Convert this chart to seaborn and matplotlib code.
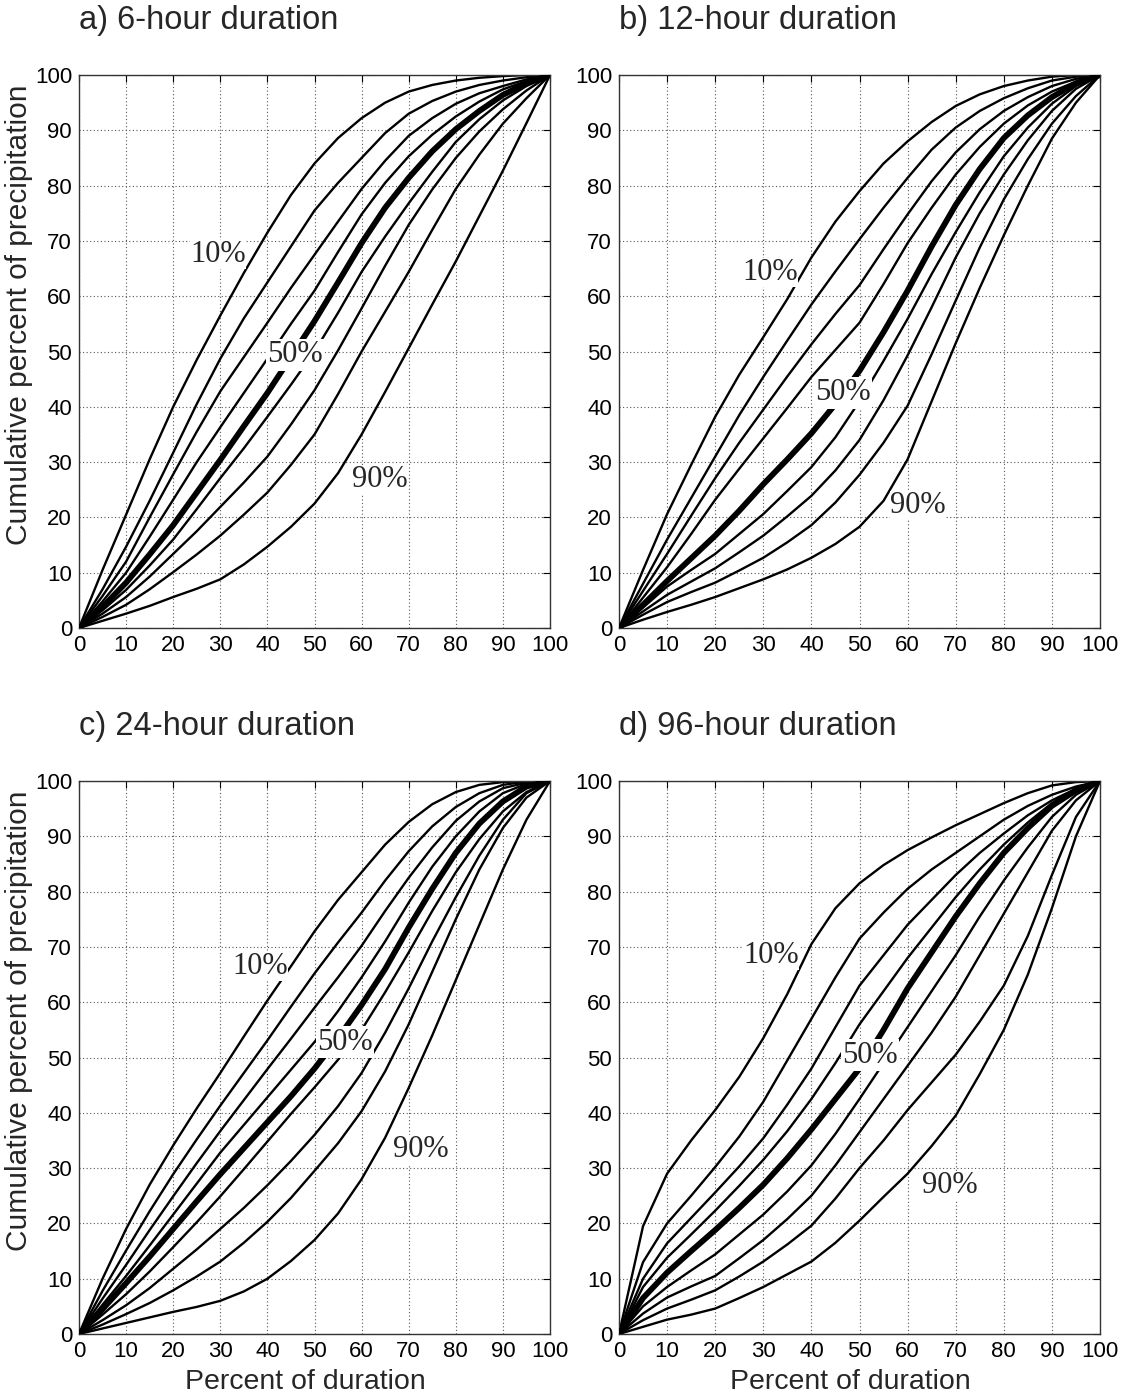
import matplotlib
matplotlib.use("Agg")
import matplotlib.pyplot as plt
import seaborn as sns
import pandas as pd

# Percent of storm duration at which the cumulative curves are tabulated
duration_pct = [0, 5, 10, 15, 20, 25, 30, 35, 40, 45, 50,
                55, 60, 65, 70, 75, 80, 85, 90, 95, 100]

# Probability levels of the curves (10% ... 90%)
prob_levels = ["10%", "20%", "30%", "40%", "50%", "60%", "70%", "80%", "90%"]

# Cumulative percent of precipitation, one row per probability level
six_hour = [
    [0, 10.5, 20.5, 30.5, 40, 48.5, 56.5, 64.2, 71.5, 78.3, 84, 88.6, 92.2, 95, 97, 98.2, 99, 99.5, 99.8, 100, 100],
    [0, 7, 14.7, 23, 31.7, 40.5, 48.7, 56, 62.5, 69, 75.5, 80.5, 85, 89.5, 93, 95.3, 97, 98.2, 99, 99.6, 100],
    [0, 5.8, 12, 20, 27.8, 35.5, 42.8, 49, 55.2, 61.5, 67.5, 73.5, 79.4, 84.5, 89, 92.2, 94.8, 96.7, 98, 99.2, 100],
    [0, 4.8, 10, 16.5, 23.2, 30, 36.3, 42.5, 48.7, 55, 61, 68, 74.8, 80.5, 85.3, 89.2, 92.5, 95.2, 97.4, 98.9, 100],
    [0, 3.8, 8.2, 13.3, 18.6, 24.5, 30.4, 36.5, 42.5, 49, 55.5, 62.5, 69.6, 76, 81.4, 86.2, 90.2, 93.5, 96.4, 98.5, 100],
    [0, 3.2, 6.9, 11.3, 16, 21.5, 27.1, 32.5, 38.2, 44, 50, 57, 64.4, 70.8, 76.8, 82.5, 87.9, 92, 95.4, 98, 100],
    [0, 2.6, 5.6, 9.3, 13.4, 17.5, 21.9, 26.3, 31, 36.8, 43, 50.2, 57.8, 65.5, 72.9, 79.3, 85, 89.8, 93.8, 97.2, 100],
    [0, 2, 4.2, 7, 10.1, 13.3, 16.7, 20.5, 24.5, 29.5, 35, 42.3, 50, 57.2, 64.4, 72, 79.4, 85.6, 91.2, 95.8, 100],
    [0, 1.3, 2.6, 4, 5.6, 7.1, 8.8, 11.5, 14.7, 18.3, 22.5, 28, 35, 42.7, 50.6, 58.5, 66.3, 74.5, 82.7, 91.3, 100],
]

twelve_hour = [
    [0, 10.5, 20.6, 29.5, 38.2, 45.8, 52.6, 59.5, 67, 73.5, 79, 84, 88, 91.5, 94.4, 96.5, 98, 99, 99.7, 100, 100],
    [0, 8, 16, 23.5, 31, 38.5, 45.4, 52, 58.5, 64.5, 70.3, 76, 81.4, 86.5, 90.5, 93.5, 95.8, 97.6, 99, 99.7, 100],
    [0, 6.7, 13.4, 20.3, 27.1, 33.5, 39.5, 45.5, 51.3, 56.8, 62, 68.5, 74.8, 80.8, 86, 90.2, 93.5, 96, 98, 99.3, 100],
    [0, 5.5, 11, 17, 23.2, 28.8, 34.3, 39.8, 45.4, 50.3, 55.2, 62.2, 69.6, 76, 82, 87, 91.2, 94.5, 97, 98.8, 100],
    [0, 4.2, 8.5, 12.6, 16.7, 21.2, 26, 30.5, 35.2, 40.5, 46.5, 53.5, 61, 69, 76.5, 83, 88.6, 92.7, 96, 98.5, 100],
    [0, 3.7, 7.5, 10.5, 13.4, 17, 20.6, 24.8, 29.1, 34.5, 41, 48.3, 55.9, 64, 71.6, 78.8, 85.3, 90.5, 94.8, 98, 100],
    [0, 3, 6, 8.4, 10.8, 13.7, 16.7, 20.2, 23.9, 28.5, 34, 41.2, 49.3, 58, 67, 75, 82, 88.2, 93.5, 97.5, 100],
    [0, 2.4, 4.7, 6.5, 8.2, 10.4, 12.7, 15.5, 18.6, 22.7, 27.7, 33.5, 40.2, 49.5, 59.2, 68.8, 77.5, 84.8, 91.2, 96.2, 100],
    [0, 1.5, 2.9, 4.2, 5.6, 7.2, 8.8, 10.6, 12.7, 15.2, 18.3, 23, 30.5, 41, 51.5, 61.5, 71, 80, 88.5, 95, 100],
]

twenty_four_hour = [
    [0, 10, 19, 27, 34.1, 40.8, 47.2, 53.8, 60.3, 66.5, 72.8, 78.5, 83.5, 88.5, 92.6, 95.8, 98, 99.3, 99.8, 100, 100],
    [0, 7.8, 15.1, 22.2, 28.9, 35.2, 41.3, 47.2, 53.1, 59.2, 65.2, 70.8, 76.2, 82, 87.3, 91.8, 95.3, 97.8, 99.3, 99.9, 100],
    [0, 6.4, 12.5, 18.8, 24.9, 30.9, 36.7, 42.3, 47.9, 53.4, 59, 64.5, 70.2, 76.5, 82.5, 88, 92.8, 96.3, 98.7, 99.7, 100],
    [0, 5.3, 10.5, 16, 21.6, 27.2, 32.8, 37.8, 42.8, 47.8, 52.8, 58.4, 64.5, 71, 78, 84.5, 90, 94.5, 97.8, 99.5, 100],
    [0, 4.5, 9.2, 14, 19, 24, 28.9, 33.6, 38.3, 43, 48, 53.5, 59.5, 66, 73.5, 80.5, 87, 92.3, 96.3, 99, 100],
    [0, 3.5, 7.2, 11.3, 15.7, 20.2, 24.9, 29.8, 34.8, 39.8, 44.6, 49.6, 55, 61.8, 69, 76.5, 83.5, 89.5, 94.5, 98, 100],
    [0, 2.5, 5.2, 8.3, 11.8, 15.3, 19, 22.8, 26.9, 31.3, 36, 41.2, 47.2, 54.5, 62.5, 71, 79, 86.5, 93, 97.8, 100],
    [0, 1.7, 3.6, 5.6, 7.9, 10.4, 13.1, 16.5, 20.3, 24.6, 29.5, 34.5, 40.3, 47.5, 56, 65.5, 75, 84, 91.5, 97, 100],
    [0, 1, 2, 3, 4, 4.9, 6, 7.7, 10, 13.2, 17, 21.8, 28, 35.5, 44.5, 54, 64, 74, 84, 93, 100],
]

ninety_six_hour = [
    [0, 19.5, 29, 35, 40.5, 46.5, 53.5, 61.5, 70.5, 77, 81.5, 84.8, 87.5, 89.8, 92, 94, 96, 97.8, 99.2, 99.8, 100],
    [0, 13, 20, 25, 30.2, 35.7, 42, 49.5, 57, 64.5, 71.5, 76.2, 80.5, 84, 87, 90, 93, 95.5, 97.5, 99, 100],
    [0, 10, 16.4, 21, 25.6, 30.3, 35.4, 41.5, 48, 55.5, 63, 68.5, 74, 78.5, 83, 87, 90.5, 93.8, 96.5, 98.6, 100],
    [0, 8.5, 13.8, 18, 22.3, 26.8, 31.5, 36.7, 42.5, 49, 56, 62, 68, 73.5, 79, 84, 88.5, 92.5, 96, 98.5, 100],
    [0, 6.5, 11.1, 15, 18.8, 22.8, 27, 31.8, 37, 42.5, 48, 55, 62.5, 69, 75.5, 81.5, 87, 91.5, 95.5, 98.3, 100],
    [0, 5, 8.5, 11.5, 14.4, 18, 21.6, 25.8, 30.5, 36.2, 42.5, 49, 55.5, 62, 68.5, 75.5, 82, 88, 93.5, 97.5, 100],
    [0, 3.7, 6.6, 8.6, 10.5, 13.7, 17, 20.8, 25, 30.5, 36.5, 42.5, 48.5, 54.5, 61, 68.5, 76, 83.5, 91, 96.5, 100],
    [0, 2.5, 4.6, 6.2, 7.9, 10.4, 13.1, 16.2, 19.6, 24.5, 30, 35, 40.5, 45.5, 50.5, 56.5, 63, 72, 83, 93.5, 100],
    [0, 1.3, 2.6, 3.5, 4.6, 6.5, 8.5, 10.8, 13.1, 16.5, 20.5, 24.8, 29, 34, 39.5, 47, 55, 65, 77, 90, 100],
]

panel_titles = ["a) 6-hour duration", "b) 12-hour duration",
                "c) 24-hour duration", "d) 96-hour duration"]
panel_curves = [six_hour, twelve_hour, twenty_four_hour, ninety_six_hour]

# Where the 10%, 50% and 90% tags sit in each panel (data coordinates)
tag_xy = [
    {"10%": (29.5, 67.5), "50%": (45.9, 49.4), "90%": (63.9, 26.8)},
    {"10%": (31.4, 64.2), "50%": (46.6, 42.5), "90%": (62.2, 22.2)},
    {"10%": (38.4, 66.4), "50%": (56.5, 52.8), "90%": (72.6, 33.3)},
    {"10%": (31.6, 68.5), "50%": (52.2, 50.4), "90%": (68.8, 26.9)},
]

sns.set_style("white")
plt.rcParams["font.family"] = ["Liberation Sans", "DejaVu Sans"]

W, H = 1126, 1400
fig = plt.figure(figsize=(W / 100, H / 100), dpi=100)

# axes boxes in pixels: left, right, top, bottom
boxes = [(79, 550, 75, 628), (619, 1100, 75, 628),
         (79, 550, 781, 1334), (619, 1100, 781, 1334)]

for k, (l, r, t, b) in enumerate(boxes):
    ax = fig.add_axes([l / W, 1 - b / H, (r - l) / W, (b - t) / H])
    curves = panel_curves[k]
    frame = pd.DataFrame({
        "duration": duration_pct * len(prob_levels),
        "precip": [v for row in curves for v in row],
        "level": [lv for lv in prob_levels for _ in duration_pct],
    })
    for lv in prob_levels:
        sub = frame[frame["level"] == lv]
        sns.lineplot(data=sub, x="duration", y="precip", ax=ax,
                     color="black", linewidth=4.2 if lv == "50%" else 1.7,
                     solid_joinstyle="round", solid_capstyle="round",
                     zorder=3 if lv == "50%" else 2)

    ax.set_xlim(0, 100)
    ax.set_ylim(0, 100)
    ax.set_xticks(range(0, 101, 10))
    ax.set_yticks(range(0, 101, 10))
    ax.grid(True, linestyle=(0, (1, 2.2)), color="#555555", linewidth=0.8)
    ax.set_axisbelow(True)
    ax.tick_params(axis="both", which="both", direction="in", length=5,
                   width=0.8, top=True, right=True, labelsize=16,
                   colors="black", pad=5)
    for sp in ax.spines.values():
        sp.set_visible(True)
        sp.set_color("#333333")
        sp.set_linewidth(1.0)

    if k >= 2:
        ax.set_xlabel("Percent of duration", fontsize=20.5)
        ax.xaxis.set_label_coords(0.48, -(1382 - b) / (b - t))
        ax.xaxis.label.set_va("center")
    else:
        ax.set_xlabel("")
    if k % 2 == 0:
        ax.set_ylabel("Cumulative percent of precipitation", fontsize=21.5)
        ax.yaxis.set_label_coords(-(l - 19) / (r - l), 0.566)
        ax.yaxis.label.set_va("center")
    else:
        ax.set_ylabel("")

    for lv, (tx, ty) in tag_xy[k].items():
        ax.text(tx, ty, lv, ha="center", va="center", fontsize=22,
                family=["Liberation Serif", "DejaVu Serif"], zorder=5,
                bbox=dict(facecolor="white", edgecolor="none",
                          pad=1.0 if lv == "50%" else 0.0))

    fig.text(l / W, 1 - (t - 55) / H, panel_titles[k], fontsize=23.5,
             ha="left", va="center")

fig.savefig("out.png", dpi=100)
